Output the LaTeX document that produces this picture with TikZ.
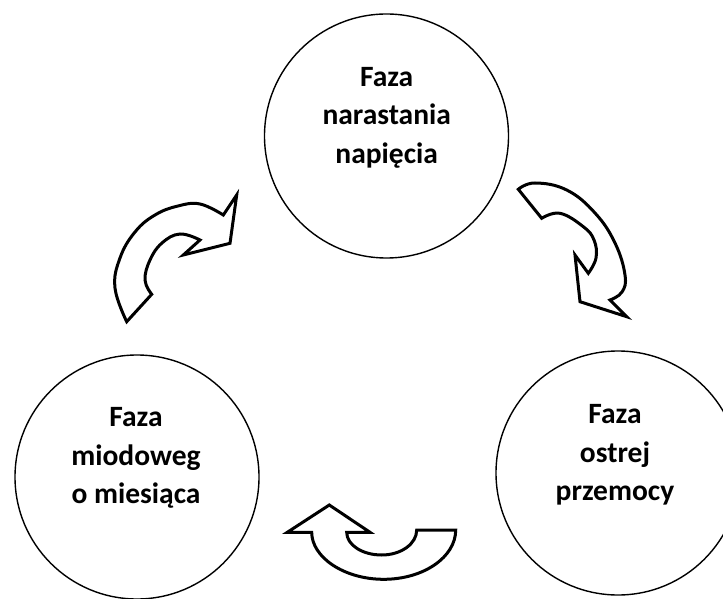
\documentclass[tikz,border=0pt]{standalone}
\usepackage{fontspec}
\setmainfont{Carlito}
\begin{document}
\begin{tikzpicture}[x=1bp,y=-1bp,
  phase/.style={circle, draw, line width=1.4bp, inner sep=0pt, minimum size=244bp},
  phasetext/.style={align=center, font=\fontsize{29.5bp}{38.5bp}\selectfont\bfseries, inner sep=0pt, anchor=base},
  turn/.style={draw, line width=3bp, fill=white, line join=miter}]
\useasboundingbox (0,0) rectangle (723,599);
\clip (0,0) rectangle (723,599);
% circles
\node[phase] (ctop) at (386.5,136) {};
\node[phase] (cleft) at (137,477) {};
\node[phase] (cright) at (618,473) {};
% texts (anchor = baseline of the last line)
\node[phasetext] (ttop) at (386.7,163.5) {Faza\\narastania\\napięcia};
\node[phasetext] (tleft) at (136,503.5) {Faza\\miodoweg\\o miesiąca};
\node[phasetext] (tright) at (615,500.7) {Faza\\ostrej\\przemocy};
% curved arrows
\draw[turn] (126.7,321.7) -- plot[smooth, tension=0.7] coordinates {(126.7,321.7) (115,288) (120,258) (135,232) (155,215) (178,206) (200,204) (223.3,215)} -- (236.7,195) -- (230,243.3) -- (183.3,255) -- (200,240) -- plot[smooth, tension=0.7] coordinates {(200,240) (180,234) (162,243) (150,260) (145,280) (151.7,294.3)} -- cycle;
\draw[turn] (518.3,189.3) -- plot[smooth, tension=0.7] coordinates {(518.3,189.3) (535,183) (566.7,190) (595,213) (615,243) (625,275) (622,292) (610,300)} -- (626.7,316.7) -- (580,301.7) -- (575,255) -- (588.3,273.3) -- plot[smooth, tension=0.7] coordinates {(588.3,273.3) (596,258) (594,240) (583.3,226.7) (560,213.3) (541.7,218.3)} -- cycle;
\draw[turn] (329.3,505) -- (370,532.3) -- (346.7,532.3) .. controls (346.7,545) and (362.4,555) .. (381.7,555) .. controls (401,555) and (416.7,543.8) .. (416.7,530) -- (455.7,530) .. controls (455.7,557.1) and (423.5,579.3) .. (383.7,579.3) .. controls (343.9,579.3) and (311.7,557.1) .. (311.7,532.3) -- (287.3,532.3) -- cycle;
\end{tikzpicture}
\end{document}
